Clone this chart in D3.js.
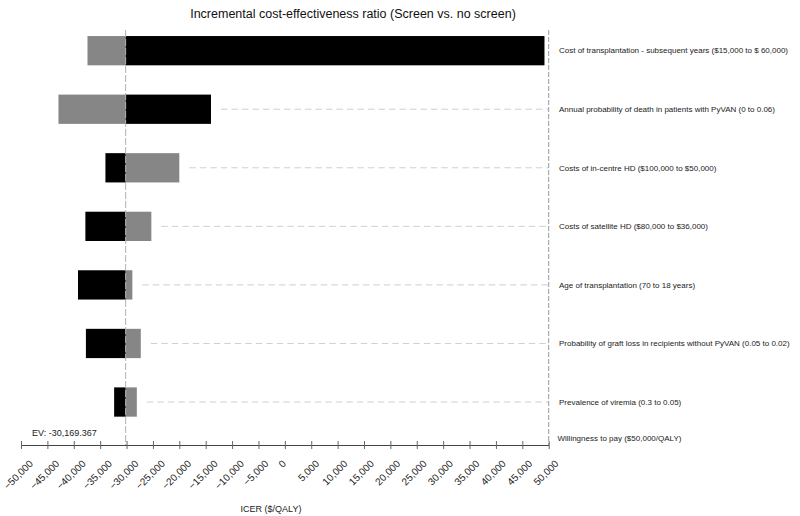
<!DOCTYPE html>
<html>
<head>
<meta charset="utf-8">
<script src="https://cdn.jsdelivr.net/npm/d3@7/dist/d3.min.js"></script>
<style>
  html, body { margin: 0; padding: 0; background: #fff; }
  svg { display: block; font-family: "Liberation Sans", Arial, Helvetica, sans-serif; }
</style>
</head>
<body>
<svg id="chart" width="800" height="516"></svg>
<script>
// ---- data ----
const categories = [
  "Cost of transplantation - subsequent years ($15,000 to $ 60,000)",
  "Annual probability of death in patients with PyVAN (0 to 0.06)",
  "Costs of in-centre HD ($100,000 to $50,000)",
  "Costs of satellite HD ($80,000 to $36,000)",
  "Age of transplantation (70 to 18 years)",
  "Probability of graft loss in recipients without PyVAN (0.05 to 0.02)",
  "Prevalence of viremia (0.3 to 0.05)"
];
const blackEnds = [49200, -14000, -34000, -37800, -39200, -37700, -32350];
const grayEnds  = [-37400, -42900, -20000, -25300, -28900, -27300, -28050];
const expectedValue = -30169.367;
const wtp = 50000;
const tickValues = [-50000, -45000, -40000, -35000, -30000, -25000, -20000, -15000, -10000, -5000, 0,
                    5000, 10000, 15000, 20000, 25000, 30000, 35000, 40000, 45000, 50000];
const titleText = "Incremental cost-effectiveness ratio (Screen vs. no screen)";
const xTitle = "ICER ($/QALY)";
const evText = "EV: -30,169.367";
const wtpText = "Willingness to pay ($50,000/QALY)";

// ---- layout ----
const svg = d3.select("#chart");
const x = d3.scaleLinear().domain([-50000, 50000]).range([21, 548.7]);
const y = d3.scaleBand().domain(categories).range([21.4, 431.3]).paddingInner(0.5).paddingOuter(0.25);
const axisY = 445;
const plotTop = 30;

// title
svg.append("text").attr("x", 353).attr("y", 17.5).attr("text-anchor", "middle")
  .attr("font-size", 12.5).attr("fill", "#111").text(titleText);

// bars
const rows = categories.map((c, i) => ({c, b: blackEnds[i], g: grayEnds[i]}));
const gBars = svg.append("g");
rows.forEach(r => {
  gBars.append("rect")
    .attr("x", Math.min(x(expectedValue), x(r.g)))
    .attr("width", Math.abs(x(r.g) - x(expectedValue)))
    .attr("y", y(r.c)).attr("height", y.bandwidth())
    .attr("fill", "#868686");
  gBars.append("rect")
    .attr("x", Math.min(x(expectedValue), x(r.b)))
    .attr("width", Math.abs(x(r.b) - x(expectedValue)))
    .attr("y", y(r.c)).attr("height", y.bandwidth())
    .attr("fill", "#000");
});

// dashed guide lines from bar end to WTP line
rows.forEach(r => {
  const end = Math.max(x(r.b), x(r.g), x(expectedValue)) + 10;
  if (end < x(wtp)) {
    svg.append("line")
      .attr("x1", end).attr("x2", x(wtp))
      .attr("y1", y(r.c) + y.bandwidth() / 2).attr("y2", y(r.c) + y.bandwidth() / 2)
      .attr("stroke", "#cfcfcf").attr("stroke-width", 1).attr("stroke-dasharray", "6.5,4");
  }
});

// EV vertical line
svg.append("line")
  .attr("x1", x(expectedValue)).attr("x2", x(expectedValue))
  .attr("y1", plotTop).attr("y2", axisY)
  .attr("stroke", "#b0b0b0").attr("stroke-width", 1).attr("stroke-dasharray", "7,2");

// WTP vertical line
svg.append("line")
  .attr("x1", x(wtp)).attr("x2", x(wtp))
  .attr("y1", plotTop).attr("y2", axisY)
  .attr("stroke", "#9a9a9a").attr("stroke-width", 1).attr("stroke-dasharray", "5,2");

// right labels
svg.append("g").selectAll("text").data(categories).join("text")
  .attr("x", 559).attr("y", d => y(d) + y.bandwidth() / 2)
  .attr("dy", "0.35em").attr("font-size", 8).attr("fill", "#222")
  .text(d => d);

svg.append("text").attr("x", 557.5).attr("y", 438).attr("dy", "0.35em")
  .attr("font-size", 8).attr("fill", "#222").text(wtpText);

// EV label
svg.append("text").attr("x", 32).attr("y", 433).attr("dy", "0.35em")
  .attr("font-size", 9).attr("fill", "#222").text(evText);

// x axis
const axis = d3.axisBottom(x).tickValues(tickValues).tickSizeInner(4).tickSizeOuter(0).tickFormat("");
const gAxis = svg.append("g").attr("transform", `translate(0,${axisY})`).call(axis);
gAxis.select(".domain").attr("stroke", "#444").attr("stroke-width", 1.2);
gAxis.selectAll(".tick line").attr("y1", -4).attr("y2", 4).attr("stroke", "#666").attr("stroke-width", 1);

// rotated tick labels
const fmt = d3.format(",");
const lbl = svg.append("g");
tickValues.forEach(t => {
  const txt = lbl.append("text")
    .attr("text-anchor", "middle").attr("dy", "0.32em")
    .attr("font-size", 10).attr("fill", "#222")
    .text(fmt(t));
  const L = txt.node().getComputedTextLength();
  const cx = x(t) - 2.5;
  const cy = 459.5 + (L + 7.2) * 0.3536;
  txt.attr("transform", `translate(${cx},${cy}) rotate(-45)`);
});

// x title
svg.append("text").attr("x", 271).attr("y", 509).attr("dy", "0.35em")
  .attr("text-anchor", "middle").attr("font-size", 9).attr("fill", "#222").text(xTitle);
</script>
</body>
</html>
